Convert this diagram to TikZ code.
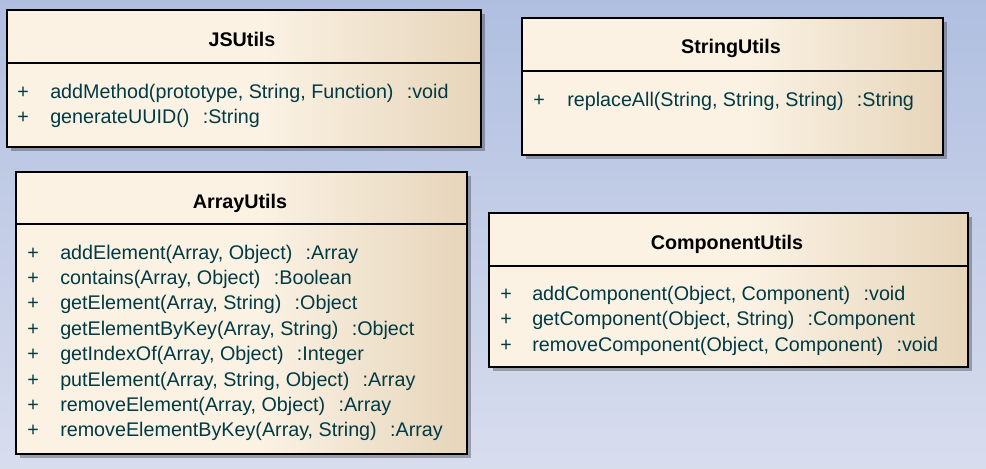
\documentclass[tikz,border=0pt]{standalone}
\usepackage{fontspec}
\setmainfont{Liberation Sans}
\usetikzlibrary{shadows,fit}
\definecolor{bgtop}{RGB}{176,191,224}
\definecolor{bgbot}{RGB}{216,221,238}
\definecolor{cream}{RGB}{251,242,228}
\definecolor{tan}{RGB}{230,213,186}
\definecolor{optext}{RGB}{0,58,68}
\pgfdeclarehorizontalshading{boxshade}{100bp}{color(0bp)=(cream); color(25bp)=(cream); color(52bp)=(cream); color(75bp)=(tan); color(100bp)=(tan)}
\newcommand{\retgap}{\hspace{10pt}}
\begin{document}
\begin{tikzpicture}[x=0.75pt,y=-0.75pt,
  classbox/.style={draw=black, line width=1.3pt, shade, shading=boxshade, inner sep=0pt,
    drop shadow={shadow xshift=3.2pt, shadow yshift=-3.2pt, fill=black, opacity=0.28}},
  sepline/.style={draw=black, line width=1.3pt},
  title/.style={font=\fontsize{14.8}{17}\selectfont\bfseries, text=black, inner sep=0pt, anchor=base},
  vis/.style={font=\fontsize{14.8}{17}\selectfont, text=optext, inner sep=0pt, anchor=base west},
  op/.style={font=\fontsize{14.8}{17}\selectfont, text=optext, inner sep=0pt, anchor=base west}]
\useasboundingbox (0,0) rectangle (986,468);
\shade[top color=bgtop, bottom color=bgbot] (0,0) rectangle (986,468);

% JSUtils
\node[classbox, fit={(7,10) (481,147)}] (js) {};
\draw[sepline] (js.west |- 0,63) -- (js.east |- 0,63);
\node[title] (jst) at (242,46) {JSUtils};
\node[vis] (js1p) at (17,98) {+};
\node[op] (js1) at (50,98) {addMethod(prototype, String, Function)\retgap:void};
\node[vis] (js2p) at (17,123.5) {+};
\node[op] (js2) at (50,123.5) {generateUUID()\retgap:String};

% StringUtils
\node[classbox, fit={(522,18) (943,155)}] (su) {};
\draw[sepline] (su.west |- 0,71) -- (su.east |- 0,71);
\node[title] (sut) at (731,53) {StringUtils};
\node[vis] (su1p) at (533,106) {+};
\node[op] (su1) at (567,106) {replaceAll(String, String, String)\retgap:String};

% ArrayUtils
\node[classbox, fit={(16,172) (467,454)}] (au) {};
\draw[sepline] (au.west |- 0,224) -- (au.east |- 0,224);
\node[title] (aut) at (240,208) {ArrayUtils};
\node[vis] (au1p) at (27,259) {+};
\node[op] (au1) at (60,259) {addElement(Array, Object)\retgap:Array};
\node[vis] (au2p) at (27,284.4) {+};
\node[op] (au2) at (60,284.4) {contains(Array, Object)\retgap:Boolean};
\node[vis] (au3p) at (27,309.8) {+};
\node[op] (au3) at (60,309.8) {getElement(Array, String)\retgap:Object};
\node[vis] (au4p) at (27,335.2) {+};
\node[op] (au4) at (60,335.2) {getElementByKey(Array, String)\retgap:Object};
\node[vis] (au5p) at (27,360.6) {+};
\node[op] (au5) at (60,360.6) {getIndexOf(Array, Object)\retgap:Integer};
\node[vis] (au6p) at (27,386) {+};
\node[op] (au6) at (60,386) {putElement(Array, String, Object)\retgap:Array};
\node[vis] (au7p) at (27,411.4) {+};
\node[op] (au7) at (60,411.4) {removeElement(Array, Object)\retgap:Array};
\node[vis] (au8p) at (27,436.8) {+};
\node[op] (au8) at (60,436.8) {removeElementByKey(Array, String)\retgap:Array};

% ComponentUtils
\node[classbox, fit={(489,213) (968,367)}] (cu) {};
\draw[sepline] (cu.west |- 0,266) -- (cu.east |- 0,266);
\node[title] (cut) at (727,249) {ComponentUtils};
\node[vis] (cu1p) at (500,300.7) {+};
\node[op] (cu1) at (532,300.7) {addComponent(Object, Component)\retgap:void};
\node[vis] (cu2p) at (500,325.8) {+};
\node[op] (cu2) at (532,325.8) {getComponent(Object, String)\retgap:Component};
\node[vis] (cu3p) at (500,351) {+};
\node[op] (cu3) at (532,351) {removeComponent(Object, Component)\retgap:void};
\end{tikzpicture}
\end{document}
